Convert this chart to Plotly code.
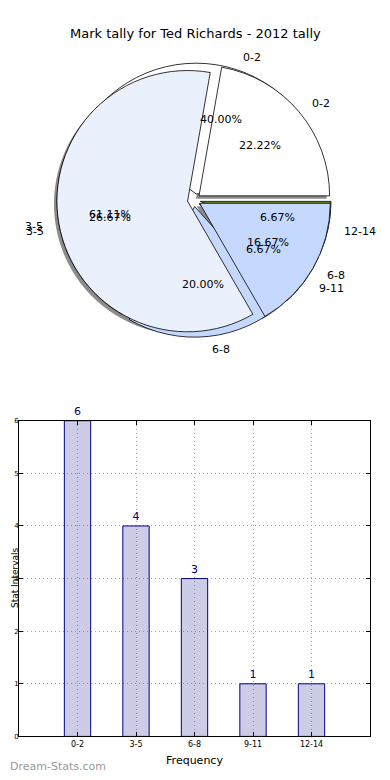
import math
import plotly.graph_objects as go

# ---- data ----
title_text = "Mark tally for Ted Richards - 2012 tally"
cats_a = ["0-2", "3-5", "6-8", "9-11", "12-14"]
vals_a = [6, 4, 3, 1, 1]
cats_b = ["0-2", "3-5", "6-8"]
vals_b = [4, 11, 3]
bar_cats = ["0-2", "3-5", "6-8", "9-11", "12-14"]
bar_vals = [6, 4, 3, 1, 1]
y_ticks = [0, 1, 2, 3, 4, 5, 6]

# the page body has an 8px margin, so the figure is 8px smaller and all
# page positions are converted to figure-paper fractions with that offset
OFF = 8
W, H = 390 - OFF, 780 - OFF
FONT = "DejaVu Sans"


def px(p):
    return (p - OFF) / W


def py(p):
    return 1 - (p - OFF) / H


colors_a = ["#ffffff", "#eaf0fc", "#c5d9fe", "#555555", "#6b8e23"]
colors_b = ["#ffffff", "#eaf0fc", "#c5d9fe"]

# pie geometry (page pixels)
cx, cy = 194, 198
R = 132
pull = 0.05
half = R * (1 + pull)
dom_x = [px(cx - half), px(cx + half)]
dom_y = [py(cy + half), py(cy - half)]
sx, sy = 3 / W, 3 / H
dom_xs = [dom_x[0] - sx, dom_x[1] - sx]
dom_ys = [dom_y[0] - sy, dom_y[1] - sy]


def start_rotation(vals):
    # first slice starts at 3 o'clock and runs counterclockwise
    return 90 - 360.0 * vals[0] / sum(vals)


def mid_angles(vals):
    tot = float(sum(vals))
    out, acc = [], 0.0
    for v in vals:
        a = 360.0 * v / tot
        out.append(math.radians(acc + a / 2))
        acc += a
    return out


def pie_text(vals, texts, frac, side_align):
    anns = []
    for t, m in zip(texts, mid_angles(vals)):
        dist = (frac + pull) * R
        x = cx + dist * math.cos(m)
        y = cy - dist * math.sin(m)
        xa = ("left" if math.cos(m) > 0 else "right") if side_align else "center"
        anns.append(dict(text=t, x=px(x), y=py(y), xref="paper", yref="paper",
                         xanchor=xa, yanchor="middle", showarrow=False,
                         font=dict(family=FONT, size=11, color="#000")))
    return anns


def pcts(vals):
    tot = float(sum(vals))
    return ["%.2f%%" % (100.0 * v / tot) for v in vals]


common = dict(sort=False, direction="counterclockwise", hoverinfo="skip",
              textinfo="none", showlegend=False)

fig = go.Figure()

# shadow
fig.add_trace(go.Pie(labels=cats_b, values=vals_b, domain=dict(x=dom_xs, y=dom_ys),
                     pull=[pull] * len(vals_b), rotation=start_rotation(vals_b),
                     marker=dict(colors=["rgba(0,0,0,0.45)"] * 3, line=dict(width=0)),
                     **common))
# pie A (underneath)
fig.add_trace(go.Pie(labels=cats_a, values=vals_a, domain=dict(x=dom_x, y=dom_y),
                     pull=[pull] * len(vals_a), rotation=start_rotation(vals_a),
                     marker=dict(colors=colors_a, line=dict(color="#000", width=0.8)),
                     **common))
# pie B (on top)
fig.add_trace(go.Pie(labels=cats_b, values=vals_b, domain=dict(x=dom_x, y=dom_y),
                     pull=[pull] * len(vals_b), rotation=start_rotation(vals_b),
                     marker=dict(colors=colors_b, line=dict(color="#000", width=0.8)),
                     **common))

# bar chart
fig.add_trace(go.Bar(x=bar_cats, y=bar_vals, width=0.45,
                     marker=dict(color="rgba(0,0,128,0.2)", line=dict(color="#000080", width=1)),
                     text=[str(v) for v in bar_vals], textposition="outside",
                     textfont=dict(family=FONT, size=11, color="#000080"),
                     cliponaxis=False, showlegend=False, hoverinfo="skip"))

grid = dict(showgrid=True, gridcolor="#a8a8a8", griddash="1px,3px", gridwidth=1,
            showline=True, linecolor="#000", linewidth=1, mirror="ticks",
            ticks="inside", ticklen=4, tickcolor="#000",
            zeroline=False, fixedrange=True)

annotations = []
annotations += pie_text(vals_a, pcts(vals_a), 0.6, False)
annotations += pie_text(vals_b, pcts(vals_b), 0.6, False)
annotations += pie_text(vals_a, cats_a, 1.1, True)
annotations += pie_text(vals_b, cats_b, 1.1, True)
annotations += [
    dict(text=title_text, xref="paper", yref="paper", x=px(195), y=py(30),
         xanchor="center", yanchor="middle", showarrow=False,
         font=dict(family=FONT, size=13, color="#000")),
    dict(text="Stat Intervals", textangle=-90, xref="paper", yref="paper",
         x=0, y=py(580), xanchor="left", yanchor="middle", showarrow=False,
         font=dict(family=FONT, size=9, color="#000")),
    dict(text="Dream-Stats.com", xref="paper", yref="paper",
         x=0, y=py(770), xanchor="left", yanchor="middle", showarrow=False,
         font=dict(family=FONT, size=11, color="#999999")),
]

fig.update_layout(
    width=W, height=H,
    margin=dict(l=0, r=0, t=0, b=0),
    paper_bgcolor="white", plot_bgcolor="white",
    font=dict(family=FONT, color="#000"),
    xaxis=dict(domain=[px(19), px(370)], range=[-1, 5], type="category",
               tickvals=bar_cats, ticktext=bar_cats,
               tickfont=dict(family=FONT, size=8, color="#000"),
               title=dict(text="Frequency", font=dict(family=FONT, size=11, color="#000"), standoff=8),
               **grid),
    yaxis=dict(domain=[py(740), py(421)], range=[0, 6], tickvals=y_ticks, ticklabelstandoff=-2,
               tickfont=dict(family=FONT, size=7, color="#000"), **grid),
    annotations=annotations,
)

fig.write_html("out.html")
